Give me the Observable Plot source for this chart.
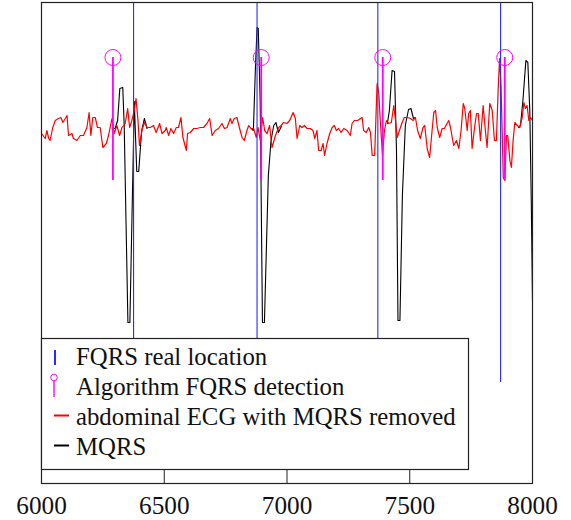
<!DOCTYPE html>
<html>
<head>
<meta charset="utf-8">
<script src="https://cdn.jsdelivr.net/npm/d3@7"></script>
<script src="https://cdn.jsdelivr.net/npm/@observablehq/plot@0.6"></script>
<style>
  html, body { margin: 0; padding: 0; background: #fff; }
  #wrap { position: relative; width: 571px; height: 520px; }
  #legend { position: absolute; left: 0; top: 0; pointer-events: none; }
</style>
</head>
<body>
<div id="wrap"></div>
<script>
// ---- data ----
const xTicks = [6000, 6500, 7000, 7500, 8000];

// abdominal ECG with MQRS removed (sample index, amplitude)
const redX = [6000,6015,6022,6029,6035,6046,6056,6069,6079,6087,6097,6104,6110,6124,6130,6144,6158,6171,6185,6194,6201,6209,6219,6228,6239,6250,6264,6273,6287,6296,6307,6318,6328,6341,6351,6359,6368,6378,6385,6393,6399,6409,6419,6430,6443,6456,6467,6481,6491,6504,6508,6518,6527,6538,6549,6558,6568,6576,6590,6595,6606,6620,6633,6647,6660,6674,6685,6695,6708,6721,6735,6745,6756,6769,6776,6785,6796,6806,6817,6826,6837,6844,6853,6864,6875,6882,6891,6901,6909,6919,6929,6939,6953,6966,6976,6986,7000,7011,7025,7034,7041,7052,7061,7071,7082,7095,7106,7113,7122,7129,7139,7147,7153,7163,7174,7184,7193,7201,7210,7220,7231,7245,7258,7265,7274,7288,7299,7306,7312,7323,7333,7340,7347,7357,7367,7374,7380,7389,7397,7405,7414,7425,7435,7442,7449,7458,7469,7478,7491,7503,7514,7523,7532,7543,7554,7561,7571,7581,7591,7598,7605,7612,7622,7632,7641,7652,7659,7666,7673,7679,7690,7700,7709,7718,7724,7734,7740,7747,7754,7764,7772,7779,7788,7799,7808,7815,7826,7836,7845,7853,7860,7866,7872,7881,7887,7894,7899,7908,7914,7921,7928,7938,7948,7958,7965,7971,7978,7985,7992,8000];
const redY = [-0.03,-0.08,0.00,-0.08,-0.10,0.03,0.10,0.12,0.13,0.08,0.12,0.15,-0.05,-0.03,-0.08,-0.10,-0.05,-0.05,0.03,0.18,-0.05,0.13,0.13,0.03,0.03,-0.17,-0.13,-0.05,0.12,-0.03,0.05,-0.05,0.03,0.07,0.22,0.03,0.10,0.20,0.32,0.10,-0.15,0.00,0.08,0.03,0.03,0.05,-0.02,0.07,-0.03,0.00,0.03,-0.05,0.02,-0.03,0.03,0.03,0.13,-0.07,-0.20,-0.03,-0.02,0.02,0.02,0.03,0.03,0.07,0.12,-0.05,0.00,0.02,0.07,0.02,0.03,0.12,0.07,0.12,0.13,0.03,-0.07,-0.10,0.00,0.05,0.02,0.02,-0.07,0.03,-0.10,0.13,0.00,-0.03,0.05,-0.17,-0.05,0.03,0.05,0.08,0.07,0.10,0.18,0.12,-0.08,0.05,0.03,0.05,0.02,0.02,0.00,-0.08,0.00,-0.20,-0.20,-0.13,-0.25,-0.13,-0.03,0.03,0.05,0.00,0.02,-0.02,0.02,0.00,-0.05,0.07,0.10,0.10,0.12,0.13,0.00,-0.02,0.03,-0.02,-0.25,-0.25,0.47,0.37,0.10,-0.25,0.00,0.10,0.07,0.08,0.25,0.10,-0.07,0.00,0.08,0.13,0.13,0.12,0.10,0.13,0.00,-0.08,0.03,0.05,-0.18,-0.27,0.00,0.18,0.20,0.03,-0.07,0.02,0.02,0.07,0.10,0.03,-0.07,-0.15,-0.10,-0.18,0.00,0.27,0.22,0.00,0.17,0.20,-0.18,0.03,0.17,0.17,-0.10,0.25,0.00,-0.17,0.27,0.20,-0.10,-0.10,0.40,0.72,0.43,-0.47,-0.50,-0.05,-0.05,-0.30,-0.37,-0.10,0.08,0.05,0.03,0.13,0.28,0.22,0.25,0.10,0.13,0.10];

// MQRS (visible where it departs from the red trace), one id per complex
const mqrsSeg = [1,1,1,1,1,1,1,1,1,1,1,1,1,1, 2,2,2,2,2,2,2,2,2,2,2,2,2,2, 3,3,3,3,3,3,3,3,3,3,3,3,3, 4,4,4,4,4,4,4,4];
const mqrsX = [6288,6300,6310,6319,6331,6337,6352,6360,6378,6388,6396,6408,6419,6430,
               6855,6863,6871,6878,6883,6891,6900,6908,6924,6935,6946,6955,6965,6977,
               7409,7417,7428,7438,7446,7452,7460,7470,7482,7495,7505,7515,7523,
               7943,7951,7961,7973,7981,7989,7995,8000];
const mqrsY = [0.02,0.02,0.10,0.42,0.43,0.04,-1.92,-1.92,0.29,-0.41,-0.41,0.00,0.12,0.02,
               0.02,0.00,0.60,1.03,1.02,0.27,-1.92,-1.92,-0.45,-0.10,0.05,0.08,-0.02,0.04,
               0.07,0.20,0.60,0.59,-0.20,-1.90,-1.90,-0.65,0.05,0.21,0.22,0.12,0.13,
               0.03,0.05,0.30,0.70,0.68,0.20,-0.70,-1.70];

// FQRS real location and algorithm detections
const fqrsReal = [6375, 6878, 7370, 7870];
const fqrsRealBottom = -2.52;
const fqrsDetect = [6291, 6895, 7390, 7887];
const detectTop = 0.73;
const detectBottom = -0.50;

const legendLabels = ["FQRS real location", "Algorithm FQRS detection", "abdominal ECG with MQRS removed", "MQRS"];

// ---- fonts: fit sizes to the reference's text widths ----
const FONT = '"Liberation Serif", "Tinos", "Times New Roman", "DejaVu Serif", serif';
const cv = document.createElement("canvas").getContext("2d");
function fitSize(str, targetW) {
  cv.font = `100px ${FONT}`;
  return 100 * targetW / cv.measureText(str).width;
}
const legendSize = Math.min(25, fitSize(legendLabels[2], 380));
const tickSize = Math.min(26, fitSize("6000", 50.5));

// ---- chart ----
const yDomain = [-3.53, 1.28];
const redData = redX.map((x, i) => ({x, y: redY[i]}));
const mqrsData = mqrsX.map((x, i) => ({x, y: mqrsY[i], s: mqrsSeg[i]}));
const tickLenUnits = 14 * (yDomain[1] - yDomain[0]) / (483 - 2);

const chart = Plot.plot({
  width: 571,
  height: 520,
  marginLeft: 41,
  marginRight: 39,
  marginTop: 2,
  marginBottom: 37,
  style: {fontFamily: FONT, background: "#fff", color: "#111", overflow: "visible"},
  x: {domain: [6000, 8000], label: null},
  y: {domain: yDomain, label: null, axis: null},
  marks: [
    Plot.line(mqrsData, {x: "x", y: "y", z: "s", stroke: "#000", strokeWidth: 1.1}),
    Plot.line(redData, {x: "x", y: "y", stroke: "#f00", strokeWidth: 1.2}),
    Plot.ruleX(fqrsReal, {x: d => d, y1: () => fqrsRealBottom, y2: () => yDomain[1], stroke: "#2a2aff", strokeWidth: 1.1}),
    Plot.ruleX(fqrsDetect, {x: d => d, y1: () => detectBottom, y2: () => detectTop, stroke: "#ff00ff", strokeWidth: 1.8}),
    Plot.dot(fqrsDetect, {x: d => d, y: () => detectTop, r: 8, stroke: "#ff00ff", fill: "none", strokeWidth: 1}),
    Plot.ruleX(xTicks.slice(1, -1), {x: d => d, y1: () => yDomain[0], y2: () => yDomain[0] + tickLenUnits, stroke: "#222", strokeWidth: 1}),
    Plot.frame({stroke: "#222", strokeWidth: 1.2}),
    Plot.axisX({ticks: xTicks, tickSize: 0, tickPadding: 13, fontSize: tickSize, tickFormat: d => String(d), label: null})
  ]
});

const wrap = document.getElementById("wrap");
wrap.appendChild(chart);

// legend overlay (inside plot area, lower-left)
const ns = "http://www.w3.org/2000/svg";
const lg = document.createElementNS(ns, "svg");
lg.setAttribute("id", "legend");
lg.setAttribute("width", 571);
lg.setAttribute("height", 520);
const baselines = [365, 395, 425, 455];
lg.innerHTML = `
  <rect x="41.5" y="338.5" width="427" height="131" fill="#fff" stroke="#222" stroke-width="1.2"/>
  <line x1="55" y1="350" x2="55" y2="365" stroke="#2a2aff" stroke-width="2"/>
  <circle cx="54" cy="377.5" r="3.3" fill="none" stroke="#ff00ff" stroke-width="1"/>
  <line x1="54" y1="381" x2="54" y2="397" stroke="#ff00ff" stroke-width="1.4"/>
  <line x1="54" y1="415.5" x2="69" y2="415.5" stroke="#f00" stroke-width="2"/>
  <line x1="54" y1="445.5" x2="69" y2="445.5" stroke="#000" stroke-width="2"/>` +
  legendLabels.map((t, i) =>
    `<text x="76" y="${baselines[i]}" font-family='${FONT}' font-size="${legendSize}" fill="#111">${t}</text>`).join("");
wrap.appendChild(lg);
</script>
</body>
</html>
